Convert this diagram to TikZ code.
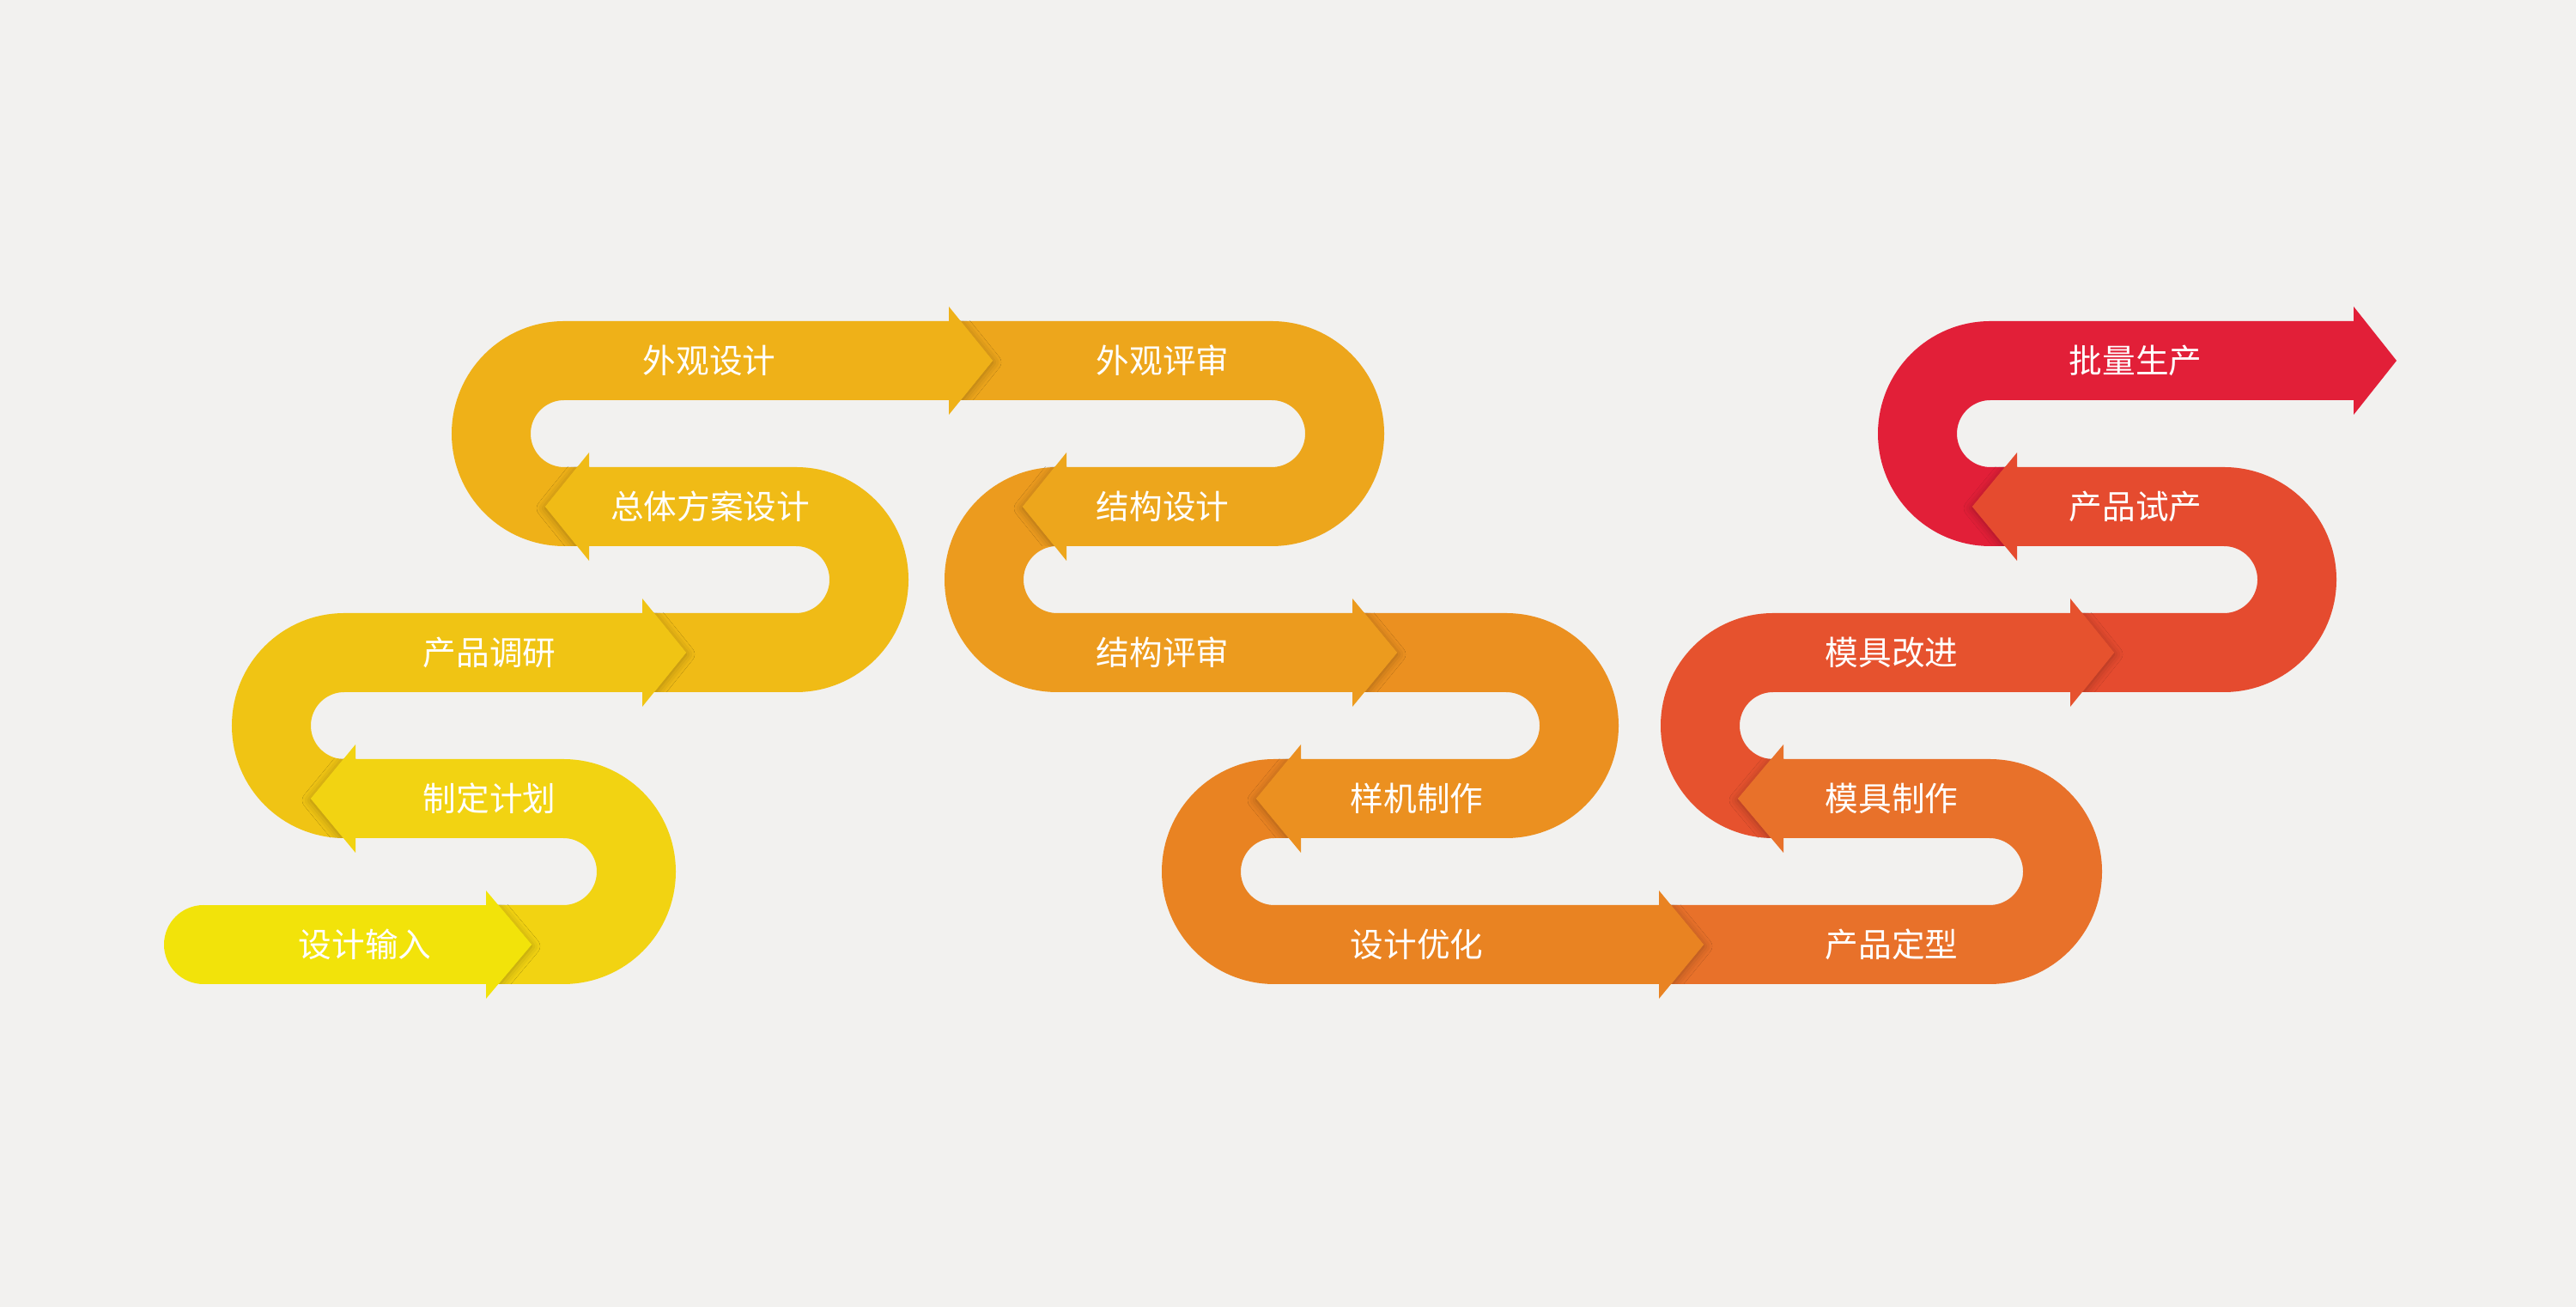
\documentclass[tikz,border=0pt]{standalone}
\usepackage{fontspec}
\newfontfamily\cjk{Noto Sans CJK SC}
\usetikzlibrary{shadows.blur}
\definecolor{bgcolor}{HTML}{F2F1EF}
\definecolor{c01}{HTML}{F2E30A}
\definecolor{c02}{HTML}{F2D312}
\definecolor{c03}{HTML}{F0C414}
\definecolor{c04}{HTML}{F0BB16}
\definecolor{c05}{HTML}{EFB118}
\definecolor{c06}{HTML}{EDA61C}
\definecolor{c07}{HTML}{EC9B1E}
\definecolor{c08}{HTML}{EB9020}
\definecolor{c09}{HTML}{E98322}
\definecolor{c10}{HTML}{E8712A}
\definecolor{c11}{HTML}{E6522E}
\definecolor{c12}{HTML}{E54B2F}
\definecolor{c13}{HTML}{E21F38}
\begin{document}
\begin{tikzpicture}[
    band/.style={line width=0.92cm},
    tip/.style={blur shadow={shadow xshift=0cm, shadow yshift=-0.02cm, shadow blur radius=0.1cm, shadow opacity=30}},
    stage/.style={text=white, font=\cjk\fontsize{11pt}{13pt}\selectfont, inner sep=0pt}
  ]
    % Background
    \fill[bgcolor] (0,0) rectangle (30,15.22);
    \useasboundingbox (0,0) rectangle (30,15.22);

    % Ribbon, drawn from the last stage back to the first;
    % each arrow tip casts its shadow on the next band only
    \fill[c13] (27.41,11.65) -- (27.91,11.02) -- (27.41,10.39) -- cycle;
    \draw[band, c13] (23.49,9.32) -- (23.18,9.32) arc[start angle=-90, end angle=-270, radius=0.85] -- (27.41,11.02);

    \begin{scope}
      \clip (22.77,8.86) rectangle (23.49,9.78);
      \fill[c12, tip] (23.49,9.95) -- (22.97,9.32) -- (23.49,8.69) -- cycle;
    \end{scope}
    \fill[c12] (23.49,9.95) -- (22.97,9.32) -- (23.49,8.69) -- cycle;
    \draw[band, c12] (24.11,7.62) -- (25.90,7.62) arc[start angle=-90, end angle=90, radius=0.85] -- (23.49,9.32);

    \begin{scope}
      \clip (24.11,7.16) rectangle (24.82,8.08);
      \fill[c11, tip] (24.11,8.25) -- (24.62,7.62) -- (24.11,6.99) -- cycle;
    \end{scope}
    \fill[c11] (24.11,8.25) -- (24.62,7.62) -- (24.11,6.99) -- cycle;
    \draw[band, c11] (20.77,5.92) -- (20.65,5.92) arc[start angle=-90, end angle=-270, radius=0.85] -- (24.11,7.62);

    \begin{scope}
      \clip (20.04,5.46) rectangle (20.77,6.38);
      \fill[c10, tip] (20.77,6.55) -- (20.24,5.92) -- (20.77,5.29) -- cycle;
    \end{scope}
    \fill[c10] (20.77,6.55) -- (20.24,5.92) -- (20.77,5.29) -- cycle;
    \draw[band, c10] (19.32,4.22) -- (23.17,4.22) arc[start angle=-90, end angle=90, radius=0.85] -- (20.77,5.92);

    \begin{scope}
      \clip (19.32,3.76) rectangle (20.04,4.68);
      \fill[c09, tip] (19.32,4.85) -- (19.84,4.22) -- (19.32,3.59) -- cycle;
    \end{scope}
    \fill[c09] (19.32,4.85) -- (19.84,4.22) -- (19.32,3.59) -- cycle;
    \draw[band, c09] (15.15,5.92) -- (14.84,5.92) arc[start angle=90, end angle=270, radius=0.85] -- (19.32,4.22);

    \begin{scope}
      \clip (14.43,5.46) rectangle (15.15,6.38);
      \fill[c08, tip] (15.15,6.55) -- (14.63,5.92) -- (15.15,5.29) -- cycle;
    \end{scope}
    \fill[c08] (15.15,6.55) -- (14.63,5.92) -- (15.15,5.29) -- cycle;
    \draw[band, c08] (15.75,7.62) -- (17.54,7.62) arc[start angle=90, end angle=-90, radius=0.85] -- (15.15,5.92);

    \begin{scope}
      \clip (15.75,7.16) rectangle (16.47,8.08);
      \fill[c07, tip] (15.75,8.25) -- (16.27,7.62) -- (15.75,6.99) -- cycle;
    \end{scope}
    \fill[c07] (15.75,8.25) -- (16.27,7.62) -- (15.75,6.99) -- cycle;
    \draw[band, c07] (12.42,9.32) -- (12.31,9.32) arc[start angle=90, end angle=270, radius=0.85] -- (15.75,7.62);

    \begin{scope}
      \clip (11.71,8.86) rectangle (12.42,9.78);
      \fill[c06, tip] (12.42,9.95) -- (11.91,9.32) -- (12.42,8.69) -- cycle;
    \end{scope}
    \fill[c06] (12.42,9.95) -- (11.91,9.32) -- (12.42,8.69) -- cycle;
    \draw[band, c06] (11.05,11.02) -- (14.81,11.02) arc[start angle=90, end angle=-90, radius=0.85] -- (12.42,9.32);

    \begin{scope}
      \clip (11.05,10.56) rectangle (11.76,11.48);
      \fill[c05, tip] (11.05,11.65) -- (11.56,11.02) -- (11.05,10.39) -- cycle;
    \end{scope}
    \fill[c05] (11.05,11.65) -- (11.56,11.02) -- (11.05,10.39) -- cycle;
    \draw[band, c05] (6.86,9.32) -- (6.57,9.32) arc[start angle=-90, end angle=-270, radius=0.85] -- (11.05,11.02);

    \begin{scope}
      \clip (6.15,8.86) rectangle (6.86,9.78);
      \fill[c04, tip] (6.86,9.95) -- (6.35,9.32) -- (6.86,8.69) -- cycle;
    \end{scope}
    \fill[c04] (6.86,9.95) -- (6.35,9.32) -- (6.86,8.69) -- cycle;
    \draw[band, c04] (7.48,7.62) -- (9.27,7.62) arc[start angle=-90, end angle=90, radius=0.85] -- (6.86,9.32);

    \begin{scope}
      \clip (7.48,7.16) rectangle (8.19,8.08);
      \fill[c03, tip] (7.48,8.25) -- (7.99,7.62) -- (7.48,6.99) -- cycle;
    \end{scope}
    \fill[c03] (7.48,8.25) -- (7.99,7.62) -- (7.48,6.99) -- cycle;
    \draw[band, c03] (4.14,5.92) -- (4.01,5.92) arc[start angle=-90, end angle=-270, radius=0.85] -- (7.48,7.62);

    \begin{scope}
      \clip (3.42,5.46) rectangle (4.14,6.38);
      \fill[c02, tip] (4.14,6.55) -- (3.62,5.92) -- (4.14,5.29) -- cycle;
    \end{scope}
    \fill[c02] (4.14,6.55) -- (3.62,5.92) -- (4.14,5.29) -- cycle;
    \draw[band, c02] (5.66,4.22) -- (6.56,4.22) arc[start angle=-90, end angle=90, radius=0.85] -- (4.14,5.92);

    \begin{scope}
      \clip (5.66,3.76) rectangle (6.39,4.68);
      \fill[c01, tip] (5.66,4.85) -- (6.19,4.22) -- (5.66,3.59) -- cycle;
    \end{scope}
    \fill[c01] (5.66,4.85) -- (6.19,4.22) -- (5.66,3.59) -- cycle;
    \fill[c01] (2.37,4.22) circle[radius=0.46];
    \draw[band, c01] (2.37,4.22) -- (5.66,4.22);

    % Stage labels
    \node[stage] (input) at (4.25,4.22) {设计输入};
    \node[stage] (plan) at (5.70,5.92) {制定计划};
    \node[stage] (research) at (5.70,7.62) {产品调研};
    \node[stage] (scheme) at (8.27,9.32) {总体方案设计};
    \node[stage] (looks) at (8.26,11.02) {外观设计};
    \node[stage] (looksreview) at (13.54,11.02) {外观评审};
    \node[stage] (structure) at (13.54,9.32) {结构设计};
    \node[stage] (structreview) at (13.54,7.62) {结构评审};
    \node[stage] (sample) at (16.50,5.92) {样机制作};
    \node[stage] (optimize) at (16.50,4.22) {设计优化};
    \node[stage] (finalize) at (22.03,4.22) {产品定型};
    \node[stage] (mould) at (22.03,5.92) {模具制作};
    \node[stage] (mouldfix) at (22.03,7.62) {模具改进};
    \node[stage] (trial) at (24.87,9.32) {产品试产};
    \node[stage] (massprod) at (24.87,11.02) {批量生产};
  \end{tikzpicture}
\end{document}
